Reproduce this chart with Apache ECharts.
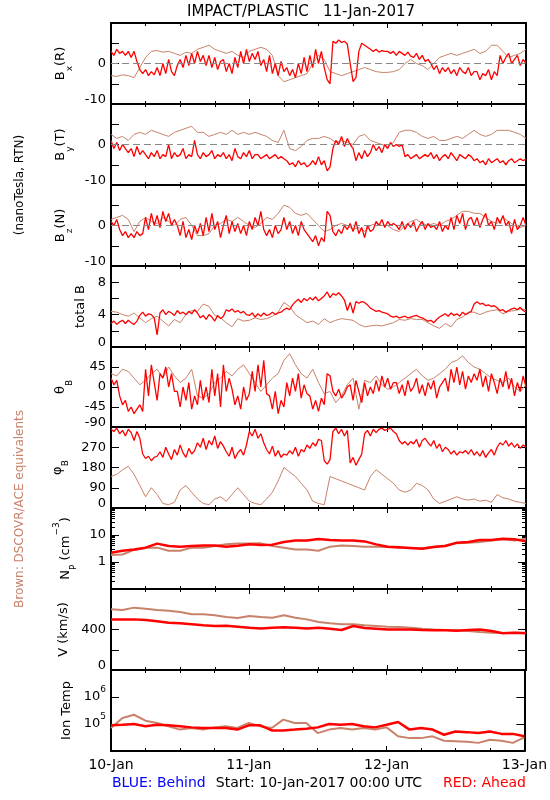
<!DOCTYPE html>
<html><head><meta charset="utf-8">
<script src="https://cdn.jsdelivr.net/npm/echarts@6/dist/echarts.min.js"></script>
<style>html,body{margin:0;padding:0;background:#fff}#c{width:550px;height:800px}</style>
</head><body><div id="c"></div>
<script>
// ---------- DATA (time axis: hours since 10-Jan-2017 00:00, 0..72) ----------
const dayLabels = ['10-Jan', '11-Jan', '12-Jan', '13-Jan'];
const dayHours = [0, 24, 48, 72];

// Bx(R), nT — red: 30-min samples, brown: hourly
const bxRed = [3,2,3.5,2.5,3,2,3, 1.5,3,0.5,-1.5, -2.5,-1.5,-3,-2,-2.8, -1,-3,0,-2.5,1,-2,-3,-0.5, 1,-1,2,-0.5, 2.5,0,3,0.5,2,-0.5, 2,-1,1.5,-1.5,0.5, 1,-2,0,-2.5,1.5,-1, 3,0,3.5,0.5,2.5,1,3,-0.5, 1,-2,2,-2.5,0,-3,0.5,-2, -1,-3,-1.5,-3.5,0,-2.5,1.5,-2, 2,-1,3.5,0,3,-1, -4,-5, 5.5,5,5.8,5.2,5.5,4.8, 0,-4.5,-3.5, 3,5,4.5,4,3.5, 3,3.5,2.8,3.2,3, 3,2.5,3,2,3,2.5,2,2.8,1.8, 1.5,2.5,1,2,0.5,1, 0,-1.5,-0.5,-2.5,-1,-2, -1,-2.5,-1.5,-3,-1,-2,-2.5,-1,-3,-2, -2,-4,-2.5,-3,-1.5,-4,-2,-3, 2,0,1.5,2.5,0,1,2,-0.5,1,0];
const bxBrown = [-3,-3.2,-2.8,-3,-3.5, -1,1.5,3,3.2,2.8, 3,2.5,2,2.8,2.5, 3.5,4,4.5,3.5,3, 2.5,3,2,1.5,3, 3.5,4,3.5,2,-3, -4.5,-4,-3.5,-3,-2.5, 0,2,1,-2,-2.5, -3,-2.5,-2,-1.5,-1, -1.5,-2,-2.2,-2.2,-2, -1.5,0,1,0,-0.5, -1.5,0,1.5,2,2.5, 2,2.5,3,3.5,2.5, 3,4.5,4.5,3,1.5, 2,2.5,3.5];

// By(T), nT
const byRed = [1,-1,0.5,-1.5,0,-1,-2, -1,-3,-0.5,-2.5,-1.5, -2.5,-3.5,-2,-3,-1.5,-3.5,-2.5,-3,0,-3.5,-2,-3,-2.5,-1,-3.5,-2.5,-3,1,-2.5,-3.5,-2,-3,-2.5,-1.5,-3.5,-2.5,-3, -2,-3.5,-2.5,-4,-1,-3,-3.5,-2,-3,-1.5,-3.5,-2.5, -2.5,-3.5,-3,-2.5,-3.5,-3,-2.5,-3.5,-3,-3.5, -4,-5,-4.5,-5.5,-4,-5,-4.5,-5.5,-5,-4,-5, -3,-5,-4,-6.5,-5.5, -1,1,0,2,-0.5,1.5,0, -1,-4,-2,-3.5,-1.5,-3,-2, 0,-1.5,-0.5,-2,0,-1,0.5,-0.5, 0,-0.5,0, -3,-2.5,-3.5,-3,-2.5,-3.5,-3,-2.5,-3, -2,-3.5,-2.5,-4,-3,-2.5,-3.5,-2,-3,-4,-2.5,-3,-3.5,-2.5,-3,-4, -3.5,-4.5,-4,-5,-3.5,-4.5,-4,-3.5,-4.5,-4,-5,-4,-3.5,-4.5,-4,-3.5,-4,-3.5];
const byBrown = [2.5,1.5,2,1,2.5, 3,2.5,3.5,3,2.5, 2,3,3.5,4,4.5, 3,3,2,2.5,3, 2.5,3.5,2.5,3,2.5, 3,2.5,2,1,0.5, 3.5,-1,-1.5,-0.5,1, 1.5,1.5,2,1.5,0.5, 1,0.5,0,2,2.5, 1,0.5,0,-0.5,0.5, 3,3.5,3.5,3,2, 1.5,2,1,1,1.5, 2,1.5,2.5,3.5,2.5, 2,2.5,3.5,3.5,3.5, 3,2.5,1.5];

// Bz(N), nT
const bzRed = [1,0,1.5, -1,-2.5,-1.5,-3,-2,-3,-1.5,-2.5,-2, 2,-1,3,0,2.5,-0.5,3.5,1,3,0,1.5, 0,-2.5,1,-3,-1,-3.5,0,-2,0.5,-2.5, 2,-1.5,3,-1,1,-3,0,2.5,-2,1,-1.5,0.5,-2, 0,-2.5,1,-1,2,0,3.5,-1, -2.5,-1,-3,0,-2,-1, 2,-1,1,-2,0,-2.5,1,-1,-2, -3,-4,-2.5,-5,-3,-4, 3.5,2.5, -1.5,-2.5,-1,-2,0,-1, 0.5,-1.5,1,-2,-0.5,-3,0,-1.5,-1, 1,0,1.5,-0.5,1,0,0.5, 0,-1,1,-1,0.5,-0.5,1,-1.5,0,1,-1,0.5,-0.5,0,-1,1,-1.5,0,-1, 2,-1,2.5,0.5,3,-1,1.5,2,0, 2,-0.5,1.5,3,0,1,-1,2,0.5,2.5,0,1,-2,1.5,-1,0,2,0];
const bzBrown = [1.5,2,2.5,1.5,-1.5, 1,2,1,0.5,2, 1,0,1.5,2,0, -2.5,-2.5,-2,0,0.5, 1.5,1,2,1,0, -0.5,0.5,2,1.5,3, 5,4.5,3,2.5,3, 1.5,0,-1.5,-1,0, 0.5,0,-1,-0.5,-1.5, 0,0.5,0,0,-1, -1.5,0,1,1.5,0.5, 0,0.5,0,1,1.5, 2.5,3.5,3.5,3,3, 2,1,0.5,2,1, 0,-0.5,0];

// total B, nT
const btRed = [2.9,3.2,2.8,3.1,3.3,2.9,3.3,3.0,2.8,3.2, 3.9,4.3,3.8,4.1,4.0,3.6, 1.5, 4.2,4.6,4.0,4.4,4.2,3.9,4.5,4.1,4.3,4.0,4.4,4.1,4.6, 4.2,3.6,3.9,3.4,4.0,3.7,3.2,3.9,3.5,3.8, 4.6,4.4,4.7,4.3,4.5,4.2,4.4,4.0, 3.9,4.2,3.7,4.1,3.8,4.2,3.9,4.0,4.3,4.0,4.2,4.3, 4.6,4.8,4.6,5.2, 5.6,5.9,5.5,6.0,5.7,6.1,5.8,6.2,5.7,6.0, 6.3,6.8,6.1,6.6,6.4,6.7,6.3, 5.8,4.5,5.5,4.2,5.6, 5.4,5.6,5.5,5.2,4.8, 4.6,4.4,4.5,4.3,4.2,4.1, 3.8,3.7,3.8,3.6,3.7,3.8,3.6,3.7,3.8,3.9,3.7,3.6,3.4,3.2,3.3, 3.0,3.4,3.7,3.9, 4.1,3.8,4.2,3.9,4.1,3.8,4.3,4.0,4.2,4.4, 5.3,5.6,5.3,5.4,5.1,5.2,5.0,5.1, 4.8,4.5,4.6,4.3,4.5,4.7,4.8,4.6,4.9,4.5,4.3];
const btBrown = [4.4,4.3,4.0,3.8,4.2, 3.6,3.0,3.5,3.8,3.2, 2.6,3.4,3.0,4.0,4.5, 4.4,5.3,5.0,3.9,3.6, 3.0,2.5,3.5,3.2,3.3, 3.6,3.4,3.5,3.8,4.3, 5.5,5.0,4.0,3.5,3.0, 3.2,2.8,3.5,3.0,3.3, 3.5,3.4,3.3,2.8,2.5, 2.6,2.7,2.6,2.8,3.0, 3.4,3.3,3.5,3.4,3.4, 3.0,2.6,2.3,2.9,2.5, 3.4,3.7,4.3,4.3,4.0, 4.3,4.5,4.6,4.1,4.4, 4.5,4.7,4.6];

// theta_B, degrees
const thRed = [20,5,15, -20,-40,-30,-55,-45,-60,-50,-40,-55, 40,-20,50,10,-30,30, 20,45,0,30,-10, -10,-45,0,-30,10,-50,-20,-40,15,-30,0,-35, 40,-20,30,-45,50,-10,20, -5,-40,-20,-50,0,-30,-15, 35,-10,50,0,60,-15, -20,-50,-10,-60,-30,-45, 10,-20,20,-10,30,-25,5,-15, -20,-50,-30,-55,-25,-40, 30,25, -10,-20,-5,-25,-15,0, 5,-30,15,-10,-35,10,-20,0,-15, 15,-10,25,0,20,-5,10, 10,-15,5,-20,15,-10,0,20,-15,5,-20,10,-5,15,-25,0,10, 20,-10,40,10,45,5,35,-5,25,10,30, 15,40,0,25,-10,30,10,-15,20,0,35,-5,20,-20,10,-10,25,0];
const thBrown = [30,25,40,35,20, 5,15,30,40,20, 45,25,10,20,40, -20,-25,-15,10,20, 35,25,40,50,30, 10,-10,5,20,30, 60,75,50,30,20, 40,10,-15,-10,-35, -20,5,20,-50,15, 10,25,5,-5,0, 10,20,30,40,25, 15,20,30,40,55, 60,70,55,45,40, 30,20,15,10,20, 0,-10,5];

// phi_B, degrees
const phRed = [350,340,355,330,345,320,350,335,300,340,310, 240,220,230,210,225, 230,250,225,270,240,215,260,235,280,245,225,265,240,255, 290,270,310,260,300,280,320,265,295,275, 250,230,270,220,245,260,235,280, 340,320,350,310,330,290, 260,240,275,230,255,225,240, 235,255,240,270,230,260,250,280,265,290,275,305,300, 210,195,215, 340,355,330,350,320,345, 200,225,190,215,240, 330,345,320,350,335, 350,355,345,350,355,340,330, 300,285,295,280, 295,285,305,270,300,310,290,275,300,265,285,250,270, 260,240,255,235,250,245, 255,240,260,235,250,230,255,225,245,260,235, 270,290,280,300,275,290,270,285,265,280,270];
const phBrown = [140,150,170,185,150, 100,50,90,60,20, 15,25,80,100,70, 40,20,15,40,50, 30,60,90,60,30, 20,15,40,70,120, 180,160,140,110,80, 30,20,15,140,130, 120,110,100,90,80, 140,170,150,130,110, 80,70,80,110,100, 80,40,20,30,40, 50,40,35,40,30, 35,25,60,45,40, 30,25,20];

// Np (cm^-3), 2-hour samples
const npRed = [2.2,2.6,2.9,3.4,4.8,3.9,3.7,3.9,4.1,4.1, 3.7,4.0,4.5,4.3,4.4,5.5,6.2,6.3,7.1,6.5, 6.3,6.3,5.8,4.5,3.7,3.5,3.3,3.1,3.6,3.9, 5.2,5.5,6.5,6.5,7.3,6.9,5.8];
const npBrown = [1.8,1.9,2.8,3.4,3.4,2.6,2.6,3.4,3.4,3.9, 4.5,4.8,4.8,4.9,3.9,3.4,2.9,2.9,2.6,3.7, 4.1,3.9,3.7,3.7,3.6,3.4,3.2,3.2,3.7,4.1, 4.9,5.2,5.5,6.2,6.9,6.3,7.3];

// V (km/s), 2-hour samples
const vRed = [500,500,500,494,481,467,461,451,441,435, 438,428,418,411,418,421,418,411,418,408, 395,435,415,408,401,401,401,395,392,392, 388,395,401,385,362,369,362];
const vBrown = [599,593,616,606,593,586,573,550,550,540, 523,514,533,523,517,540,517,500,474,461, 451,451,441,435,428,425,418,408,401,395, 392,385,375,369,365,369,369];

// Ion temperature (K), 2-hour samples
const tRed = [8.9e4,9.4e4,1.0e5,8.2e4,9.4e4,8.9e4,8.2e4,7.5e4,7.1e4,7.1e4, 7.1e4,6.2e4,8.9e4,8.9e4,5.8e4,5.8e4,6.2e4,6.7e4,7.5e4,1.0e5, 9.4e4,1.0e5,8.2e4,7.5e4,9.4e4,1.19e5,6.2e4,7.1e4,6.2e4,4.0e4, 5.3e4,5.0e4,4.6e4,5.3e4,4.3e4,4.3e4,3.5e4];
const tBrown = [7.1e4,1.67e5,2.2e5,1.33e5,1.09e5,8.2e4,6.2e4,7.1e4,6.2e4,7.5e4, 8.2e4,7.1e4,1.09e5,8.2e4,7.1e4,1.45e5,1.09e5,1.09e5,4.6e4,6.2e4, 7.1e4,6.2e4,7.1e4,6.2e4,7.5e4,3.5e4,3.0e4,3.0e4,3.5e4,2.4e4, 2.3e4,2.2e4,2.0e4,2.6e4,2.4e4,2.0e4,3.2e4];

// ---------- CHART ----------
const RED = '#ff0000', BROWN = '#c8826a';
const FONT = 'DejaVu Sans';
const SPAN = 72;
function toXY(arr) { const step = SPAN / (arr.length - 1); return arr.map((v, i) => [i * step, v]); }
const tops = [23, 104, 185, 266, 347, 427, 508, 589, 670, 751];
const near = (a, b) => Math.abs(a - b) < 1e-6 * Math.max(1, Math.abs(b));

const nameRich = {
  b: { fontSize: 13, fontFamily: FONT, color: '#000', lineHeight: 26, verticalAlign: 'middle' },
  sub: { fontSize: 9, fontFamily: FONT, color: '#000', lineHeight: 19, verticalAlign: 'bottom' },
  sup: { fontSize: 9, fontFamily: FONT, color: '#000', lineHeight: 16, verticalAlign: 'top' }
};
const labelRich = {
  n: { fontSize: 13, fontFamily: FONT, color: '#000', lineHeight: 24, verticalAlign: 'middle' },
  lo: { fontSize: 13, fontFamily: FONT, color: '#000', padding: [0, 0, 8, 0] },
  sup: { fontSize: 9, fontFamily: FONT, color: '#000', lineHeight: 12, verticalAlign: 'top' }
};

const panels = [
  { name: '{b|B}{sub|x}{b|(R)}', type: 'value', min: -10, max: 10, interval: 5, labels: { '-10': '{lo|-10}', '0': '0' }, gap: 37, red: bxRed, brown: bxBrown, zero: true },
  { name: '{b|B}{sub|y}{b|(T)}', type: 'value', min: -10, max: 10, interval: 5, labels: { '-10': '{lo|-10}', '0': '0' }, gap: 37, red: byRed, brown: byBrown, zero: true },
  { name: '{b|B}{sub|z}{b|(N)}', type: 'value', min: -10, max: 10, interval: 5, labels: { '-10': '{lo|-10}', '0': '0' }, gap: 37, red: bzRed, brown: bzBrown, zero: true },
  { name: '{b|total B}', type: 'value', min: 0, max: 10, interval: 2, labels: { '0': '{lo|0}', '4': '4', '8': '8' }, gap: 15, red: btRed, brown: btBrown },
  { name: '{b|θ}{sub|B}', type: 'value', min: -90, max: 90, interval: 45, labels: { '-90': '{lo|-90}', '-45': '-45', '0': '0', '45': '45' }, gap: 35, red: thRed, brown: thBrown },
  { name: '{b|φ}{sub|B}', type: 'value', min: 0, max: 360, interval: 90, labels: { '0': '{lo|0}', '90': '90', '180': '180', '270': '270' }, gap: 32, red: phRed, brown: phBrown },
  { name: '{b|N}{sub|P}{b| (cm}{sup|−3}{b|)}', type: 'log', min: 0.1, max: 100, labels: { '1': '1', '10': '10' }, gap: 24, red: npRed, brown: npBrown, thick: true, minor: true },
  { name: '{b|V (km/s)}', type: 'value', min: 0, max: 800, interval: 200, labels: { '0': '{lo|0}', '400': '400' }, gap: 30, red: vRed, brown: vBrown, thick: true },
  { name: '{b|Ion Temp}', type: 'log', min: 1e4, max: 1e7, labels: { '100000': '{n|10}{sup|5}', '1000000': '{n|10}{sup|6}' }, gap: 28, red: tRed, brown: tBrown, thick: true }
];

function labelFor(p, v) {
  for (const k in p.labels) { if (near(v, Number(k))) return p.labels[k]; }
  return '';
}

const grids = [], xAxes = [], yAxes = [], series = [];
const lineAxis = { show: true, onZero: false, lineStyle: { color: '#000', width: 2 } };

panels.forEach((p, i) => {
  grids.push({ left: 111, width: 415, top: tops[i], height: tops[i + 1] - tops[i], containLabel: false });
  const xBase = {
    gridIndex: i, type: 'value', min: 0, max: SPAN, interval: 24,
    axisLine: lineAxis,
    axisTick: { show: true, inside: true, length: 5, lineStyle: { color: '#000', width: 1 } },
    minorTick: { show: true, splitNumber: 4, length: 3, lineStyle: { color: '#000', width: 1 } },
    splitLine: { show: false }, minorSplitLine: { show: false }
  };
  xAxes.push(Object.assign({}, xBase, {
    position: 'bottom',
    axisLabel: {
      show: i === panels.length - 1, margin: 7, color: '#000', fontSize: 14, fontFamily: FONT,
      showMinLabel: true, showMaxLabel: true,
      formatter: v => { const k = dayHours.findIndex(h => near(v, h)); return k >= 0 ? dayLabels[k] : ''; }
    }
  }));
  xAxes.push(Object.assign({}, xBase, { position: 'top', axisLabel: { show: false } }));

  const yBase = {
    gridIndex: i, type: p.type, min: p.min, max: p.max,
    axisLine: lineAxis,
    axisTick: { show: true, inside: true, length: 8, lineStyle: { color: '#000', width: 1 } },
    minorTick: { show: !!p.minor, splitNumber: 9, length: 4, lineStyle: { color: '#000', width: 1 } },
    splitLine: { show: false }, minorSplitLine: { show: false }
  };
  if (p.interval) yBase.interval = p.interval;
  if (p.type === 'log') yBase.logBase = 10;
  yAxes.push(Object.assign({}, yBase, {
    position: 'left',
    name: p.name, nameLocation: 'middle', nameGap: p.gap,
    nameTextStyle: { rich: nameRich },
    axisLabel: {
      show: true, margin: 5, color: '#000', fontSize: 13, fontFamily: FONT,
      showMinLabel: true, showMaxLabel: true, rich: labelRich,
      formatter: v => labelFor(p, v)
    }
  }));
  yAxes.push(Object.assign({}, yBase, { position: 'right', axisLabel: { show: false } }));

  const brownSeries = {
    type: 'line', xAxisIndex: 2 * i, yAxisIndex: 2 * i, data: toXY(p.brown),
    symbol: 'none', silent: true, z: 2,
    lineStyle: { color: BROWN, width: p.thick ? 2 : 1 }, itemStyle: { color: BROWN }
  };
  if (p.zero) {
    brownSeries.markLine = {
      silent: true, symbol: 'none', animation: false, label: { show: false },
      lineStyle: { color: '#888', type: [7, 4], width: 1 },
      data: [{ yAxis: 0 }]
    };
  }
  series.push(brownSeries);
  series.push({
    type: 'line', xAxisIndex: 2 * i, yAxisIndex: 2 * i, data: toXY(p.red),
    symbol: 'none', silent: true, z: 3,
    lineStyle: { color: RED, width: p.thick ? 2.5 : 1.3 }, itemStyle: { color: RED }
  });
});

const graphic = [
  { type: 'text', x: 301, y: 12, style: { text: 'IMPACT/PLASTIC   11-Jan-2017', font: '15px ' + FONT, fill: '#000', align: 'center', verticalAlign: 'middle' } },
  { type: 'text', x: 20, y: 185, rotation: Math.PI / 2, style: { text: '(nanoTesla, RTN)', font: '12px ' + FONT, fill: '#000', align: 'center', verticalAlign: 'middle' } },
  { type: 'text', x: 20, y: 509, rotation: Math.PI / 2, style: { text: 'Brown: DSCOVR/ACE equivalents', font: '12px ' + FONT, fill: BROWN, align: 'center', verticalAlign: 'middle' } },
  { type: 'text', x: 112, y: 783, style: { text: 'BLUE: Behind', font: '14px ' + FONT, fill: '#0000ff', align: 'left', verticalAlign: 'middle' } },
  { type: 'text', x: 319, y: 783, style: { text: 'Start: 10-Jan-2017 00:00 UTC', font: '14px ' + FONT, fill: '#000', align: 'center', verticalAlign: 'middle' } },
  { type: 'text', x: 526, y: 783, style: { text: 'RED: Ahead', font: '14px ' + FONT, fill: '#ff0000', align: 'right', verticalAlign: 'middle' } }
];

const chart = echarts.init(document.getElementById('c'), null, { renderer: 'canvas' });
chart.setOption({
  animation: false,
  backgroundColor: '#fff',
  grid: grids, xAxis: xAxes, yAxis: yAxes, series: series, graphic: graphic
});
</script>
</body></html>
